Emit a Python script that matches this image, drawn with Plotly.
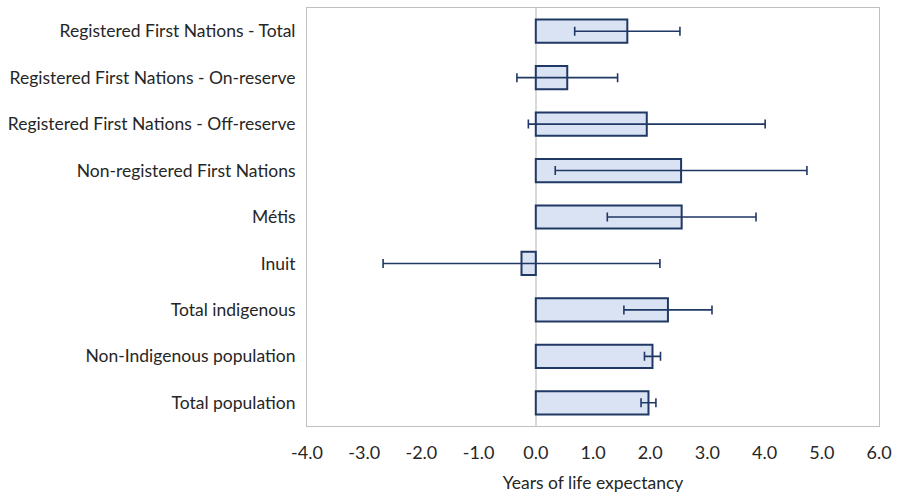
import plotly.graph_objects as go

# Groups, listed top to bottom
groups = [
    "Registered First Nations - Total",
    "Registered First Nations - On-reserve",
    "Registered First Nations - Off-reserve",
    "Non-registered First Nations",
    "Métis",
    "Inuit",
    "Total indigenous",
    "Non-Indigenous population",
    "Total population",
]

# Gain in years of life expectancy and 95% confidence half-widths
years = [1.60, 0.55, 1.94, 2.54, 2.55, -0.25, 2.31, 2.04, 1.97]
ci_half = [0.92, 0.88, 2.07, 2.20, 1.30, 2.42, 0.77, 0.14, 0.13]

x_ticks = [-4.0, -3.0, -2.0, -1.0, 0.0, 1.0, 2.0, 3.0, 4.0, 5.0, 6.0]

navy = "#203864"
text_color = "#262626"

fig = go.Figure(
    go.Bar(
        y=groups,
        x=years,
        orientation="h",
        marker=dict(color="#dae3f3", line=dict(color=navy, width=2)),
        error_x=dict(type="data", array=ci_half, visible=True,
                     color=navy, thickness=1.6, width=4.5),
    )
)

fig.update_layout(
    width=898,
    height=494,
    margin=dict(l=307, r=19, t=8, b=68),
    paper_bgcolor="white",
    plot_bgcolor="white",
    showlegend=False,
    bargap=0.5,
    font=dict(family="Lato, Open Sans, sans-serif", size=17.5, color=text_color),
)

fig.update_xaxes(
    range=[-4, 6],
    tickvals=x_ticks,
    ticktext=[f"{v:.1f}" for v in x_ticks],
    tickfont=dict(size=18),
    showgrid=False,
    zeroline=True,
    zerolinecolor="#d9d9d9",
    zerolinewidth=1.5,
    showline=True,
    linecolor="#bfbfbf",
    linewidth=1,
    mirror=True,
    ticks="",
    ticklabelstandoff=10,
    automargin=False,
    title=dict(text="Years of life expectancy", standoff=15,
               font=dict(size=17.5, color=text_color)),
)

fig.update_yaxes(
    categoryorder="array",
    categoryarray=groups,
    autorange="reversed",
    showgrid=False,
    showline=True,
    linecolor="#bfbfbf",
    linewidth=1,
    mirror=True,
    ticks="",
    ticklabelstandoff=7,
    automargin=False,
)

fig.write_html("out.html")
